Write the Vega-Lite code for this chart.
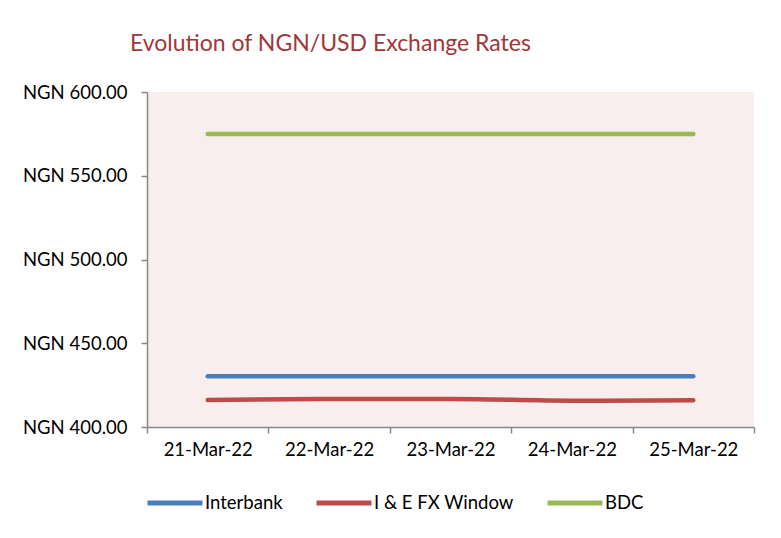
{
  "$schema": "https://vega.github.io/schema/vega-lite/v6.json",
  "width": 607,
  "height": 335,
  "autosize": {"type": "none"},
  "padding": {"left": 147, "top": 92, "right": 27, "bottom": 111},
  "background": "white",
  "title": {
    "text": "Evolution of NGN/USD Exchange Rates",
    "anchor": "start",
    "frame": "group",
    "dx": -17,
    "offset": 27,
    "font": "Lato",
    "fontSize": 23,
    "fontWeight": "normal",
    "color": "#A0373A"
  },
  "config": {
    "view": {"fill": "#F8EEEE", "stroke": null},
    "font": "Lato"
  },
  "data": {
    "values": [
      {"date": "21-Mar-22", "series": "Interbank", "rate": 430.3},
      {"date": "22-Mar-22", "series": "Interbank", "rate": 430.3},
      {"date": "23-Mar-22", "series": "Interbank", "rate": 430.3},
      {"date": "24-Mar-22", "series": "Interbank", "rate": 430.3},
      {"date": "25-Mar-22", "series": "Interbank", "rate": 430.3},
      {"date": "21-Mar-22", "series": "I & E FX Window", "rate": 416.1},
      {"date": "22-Mar-22", "series": "I & E FX Window", "rate": 416.7},
      {"date": "23-Mar-22", "series": "I & E FX Window", "rate": 416.7},
      {"date": "24-Mar-22", "series": "I & E FX Window", "rate": 415.7},
      {"date": "25-Mar-22", "series": "I & E FX Window", "rate": 416.0},
      {"date": "21-Mar-22", "series": "BDC", "rate": 575.0},
      {"date": "22-Mar-22", "series": "BDC", "rate": 575.0},
      {"date": "23-Mar-22", "series": "BDC", "rate": 575.0},
      {"date": "24-Mar-22", "series": "BDC", "rate": 575.0},
      {"date": "25-Mar-22", "series": "BDC", "rate": 575.0}
    ]
  },
  "mark": {"type": "line", "strokeWidth": 4.5, "strokeCap": "round", "interpolate": "monotone"},
  "encoding": {
    "x": {
      "field": "date",
      "type": "nominal",
      "sort": null,
      "bandPosition": 0.5,
      "scale": {"type": "band", "paddingInner": 0, "paddingOuter": 0},
      "axis": {
        "title": null,
        "labelAngle": 0,
        "tickBand": "extent",
        "domainColor": "#888888",
        "domainWidth": 1.5,
        "tickColor": "#888888",
        "tickWidth": 1.5,
        "tickSize": 6,
        "labelPadding": 7,
        "labelFontSize": 18.5,
        "labelColor": "#000000",
        "labelFont": "Lato"
      }
    },
    "y": {
      "field": "rate",
      "type": "quantitative",
      "scale": {"domain": [400, 600], "nice": false, "zero": false},
      "axis": {
        "title": null,
        "values": [400, 450, 500, 550, 600],
        "labelExpr": "'NGN ' + format(datum.value, '.2f')",
        "grid": false,
        "domainColor": "#888888",
        "domainWidth": 1.5,
        "tickColor": "#888888",
        "tickWidth": 1.5,
        "tickSize": 6,
        "labelPadding": 14,
        "labelFontSize": 18.5,
        "labelColor": "#000000",
        "labelFont": "Lato"
      }
    },
    "color": {
      "field": "series",
      "type": "nominal",
      "scale": {
        "domain": ["Interbank", "I & E FX Window", "BDC"],
        "range": ["#4A7EBB", "#BE4B48", "#98B954"]
      },
      "legend": {
        "title": null,
        "orient": "none",
        "direction": "horizontal",
        "legendX": -2,
        "legendY": 381,
        "symbolType": "stroke",
        "symbolSize": 3025,
        "symbolStrokeWidth": 5,
        "labelFontSize": 18.5,
        "labelColor": "#000000",
        "labelFont": "Lato",
        "labelOffset": 0,
        "columnPadding": 23
      }
    }
  }
}
